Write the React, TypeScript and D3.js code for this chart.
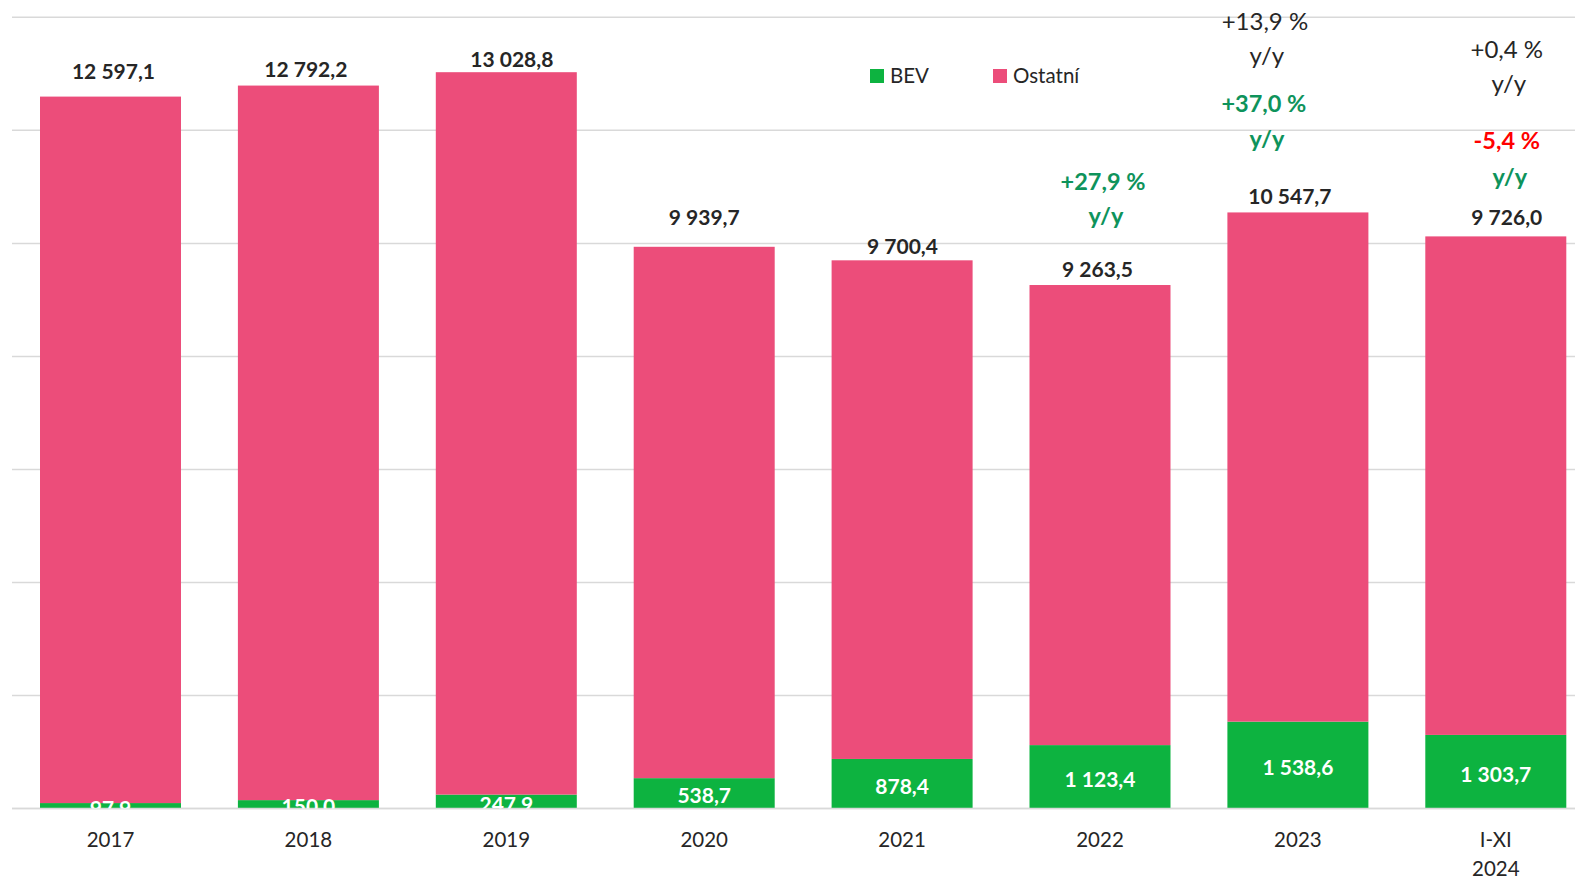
import React from 'react';
import * as d3 from 'd3';

// ---- Data ----
const CATEGORIES = ['2017', '2018', '2019', '2020', '2021', '2022', '2023', 'I-XI\n2024'];
const BEV = [97.9, 150.0, 247.9, 538.7, 878.4, 1123.4, 1538.6, 1303.7];
const OSTATNI = [12499.2, 12642.2, 12780.9, 9401.0, 8822.0, 8140.1, 9009.1, 8820.0];
const TOTALS = [12597.1, 12792.2, 13028.8, 9939.7, 9700.4, 9263.5, 10547.7, 9726.0];
const YOY_TOTAL = [null, null, null, null, null, null, '+13,9 %', '+0,4 %'];
const YOY_BEV = [null, null, null, null, null, '+27,9 %', '+37,0 %', '-5,4 %'];
const Y_TICKS = [0, 2000, 4000, 6000, 8000, 10000, 12000, 14000];
const SERIES = ['BEV', 'Ostatní'];

// ---- Layout / style ----
const W = 1575;
const H = 878;
const BASE_Y = 808.6;
const TOP_Y = 17.3;
const X0 = 11.55;
const STEP = 197.9;
const PAD = 1 - 141 / STEP;
const PINK = '#EC4D7A';
const GREEN = '#0DB340';
const ANN_GREEN = '#0E935B';
const RED = '#FF0000';
const DARK = '#262626';
const FONT = 'Lato, "Open Sans", sans-serif';

// label nudges (manual placement in the original)
const TOTAL_DX = [3, -2.6, 5.5, 0, 0.4, -2.5, -8, 11];
const TOTAL_GAP = [17.3, 8.9, 5.5, 21.8, 6.3, 8.3, 8.4, 11.4];
// annotation layout: [dx from bar center, baseline of value, baseline of y/y]
const ANN_TOTAL_POS = [null, null, null, null, null, null, [-33, 30, 64], [11, 58.3, 92]];
const ANN_BEV_POS = [null, null, null, null, null, [3, 190, 224], [-34, 111.7, 147], [11, 149.3, 185]];

const fmt = d3.formatLocale({ decimal: ',', thousands: ' ', grouping: [3], currency: ['', ''] }).format(',.1f');

export default function App() {
  const x = d3
    .scaleBand<string>()
    .domain(CATEGORIES)
    .range([X0, X0 + STEP * CATEGORIES.length])
    .paddingInner(PAD)
    .paddingOuter(PAD / 2);
  const y = d3.scaleLinear().domain([0, 14000]).range([BASE_Y, TOP_Y]);

  const rows = CATEGORIES.map((c, i) => ({ cat: c, BEV: BEV[i], 'Ostatní': OSTATNI[i] }));
  const stack = d3.stack<any>().keys(SERIES)(rows);
  const colors: Record<string, string> = { BEV: GREEN, 'Ostatní': PINK };

  return (
    <svg width={W} height={H} style={{ position: 'absolute', left: 0, top: 0, background: '#fff' }} fontFamily={FONT}>
      <defs>
        <clipPath id="plot">
          <rect x={0} y={0} width={W} height={BASE_Y} />
        </clipPath>
      </defs>
      {/* gridlines */}
      {Y_TICKS.map((t) => (
        <line key={t} x1={12} x2={W} y1={y(t)} y2={y(t)} stroke="#D9D9D9" strokeWidth={1.5} />
      ))}
      {/* bars */}
      {stack.map((s) => (
        <g key={s.key} fill={colors[s.key]}>
          {s.map((d, i) => (
            <rect
              key={i}
              x={x(CATEGORIES[i])}
              width={x.bandwidth()}
              y={y(d[1])}
              height={y(d[0]) - y(d[1])}
            />
          ))}
        </g>
      ))}
      <line x1={12} x2={W} y1={BASE_Y} y2={BASE_Y} stroke="#D9D9D9" strokeWidth={1.5} />
      {/* BEV labels */}
      <g clipPath="url(#plot)">
        {BEV.map((v, i) => {
          const mid = (y(0) + y(v)) / 2;
          return (
            <text
              key={i}
              x={(x(CATEGORIES[i]) as number) + x.bandwidth() / 2}
              y={mid + 10}
              textAnchor="middle"
              fill="#fff"
              fontWeight={700}
              fontSize={21}
            >
              {fmt(v)}
            </text>
          );
        })}
      </g>
      {/* total labels */}
      {TOTALS.map((v, i) => {
        const top = y(BEV[i] + OSTATNI[i]);
        return (
          <text
            key={i}
            x={(x(CATEGORIES[i]) as number) + x.bandwidth() / 2 + TOTAL_DX[i]}
            y={top - TOTAL_GAP[i]}
            textAnchor="middle"
            fill={DARK}
            fontWeight={700}
            fontSize={21}
          >
            {fmt(v)}
          </text>
        );
      })}
      {/* category labels */}
      {CATEGORIES.map((c, i) => (
        <text
          key={c}
          x={(x(c) as number) + x.bandwidth() / 2}
          y={847}
          textAnchor="middle"
          fill={DARK}
          fontSize={20.5}
        >
          {c.split('\n').map((line, j) => (
            <tspan key={j} x={(x(c) as number) + x.bandwidth() / 2} dy={j === 0 ? 0 : 29}>
              {line}
            </tspan>
          ))}
        </text>
      ))}
      {/* y/y annotations */}
      {YOY_TOTAL.map((t, i) => {
        const p = ANN_TOTAL_POS[i];
        if (!t || !p) return null;
        const cx = (x(CATEGORIES[i]) as number) + x.bandwidth() / 2 + p[0];
        return (
          <g key={'t' + i} fill={DARK} fontSize={24} textAnchor="middle">
            <text x={cx} y={p[1]}>{t}</text>
            <text x={cx + 2} y={p[2]}>y/y</text>
          </g>
        );
      })}
      {YOY_BEV.map((t, i) => {
        const p = ANN_BEV_POS[i];
        if (!t || !p) return null;
        const cx = (x(CATEGORIES[i]) as number) + x.bandwidth() / 2 + p[0];
        const valColor = t.startsWith('-') ? RED : ANN_GREEN;
        return (
          <g key={'b' + i} fontSize={23.5} fontWeight={700} textAnchor="middle">
            <text x={cx} y={p[1]} fill={valColor}>{t}</text>
            <text x={cx + 3} y={p[2]} fill={ANN_GREEN}>y/y</text>
          </g>
        );
      })}
      {/* legend */}
      {SERIES.map((s, i) => {
        const lx = [870, 993][i];
        return (
          <g key={s}>
            <rect x={lx} y={69} width={14} height={14} fill={colors[s]} />
            <text x={lx + 20} y={83} fontSize={20.5} fill={DARK}>{s}</text>
          </g>
        );
      })}
    </svg>
  );
}
